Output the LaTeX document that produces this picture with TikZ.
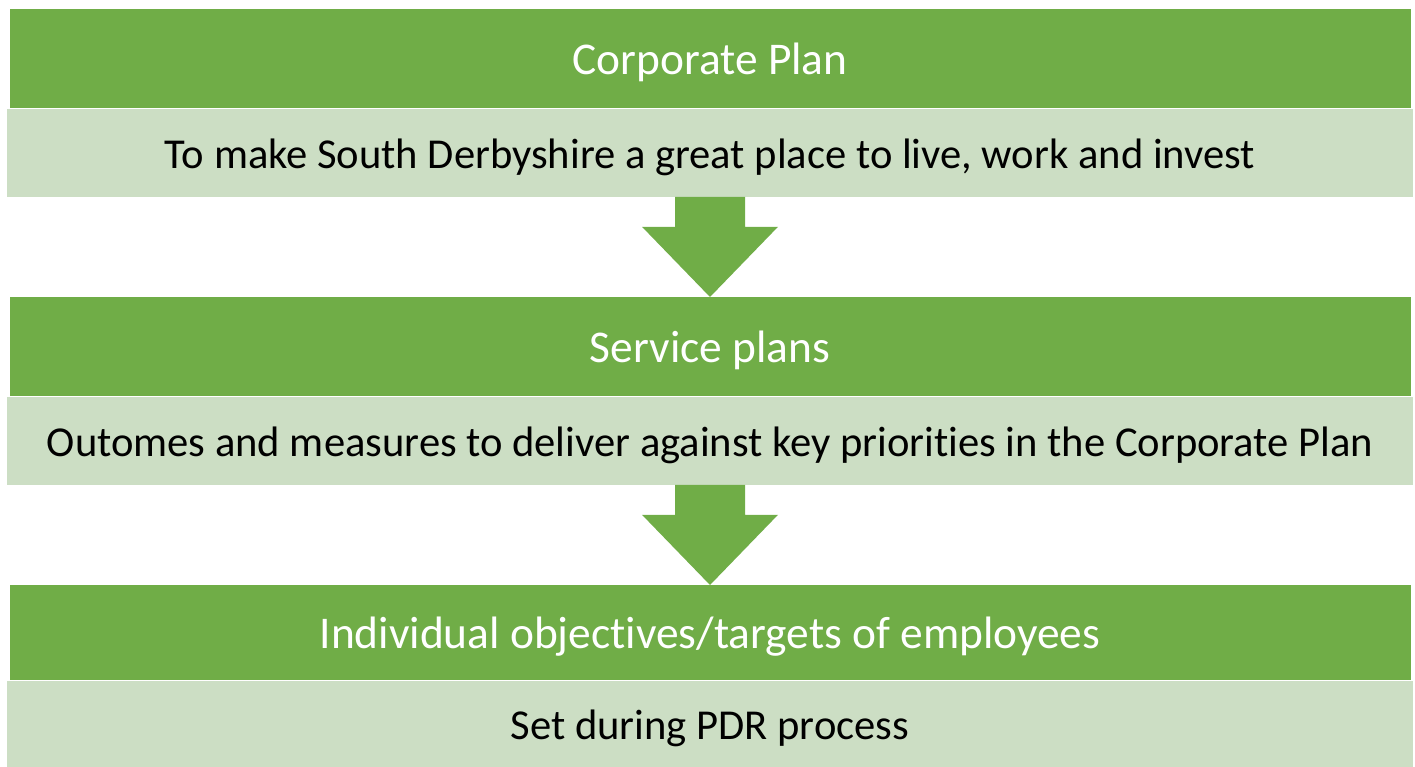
\documentclass[tikz,border=0pt]{standalone}
\usepackage{fontspec}
\setmainfont{Carlito}[Ligatures=NoCommon]
\usetikzlibrary{calc}
\definecolor{dkgreen}{RGB}{112,173,71}
\definecolor{ltgreen}{RGB}{204,222,196}
\begin{document}
\begin{tikzpicture}[x=1pt,y=1pt,
  band/.style={inner sep=0pt, anchor=north, text height=38pt, text depth=7pt},
  head/.style={band, fill=dkgreen, text=white, minimum width=1401pt,
    font=\fontsize{45.4}{54}\selectfont},
  body/.style={band, fill=ltgreen, text=black, minimum width=1406pt,
    font=\fontsize{42.6}{51}\selectfont},
  blockarrow/.style={fill=dkgreen}]
\useasboundingbox (0,0) rectangle (1415,766);
\node[head, minimum height=99pt] (h1) at (710,757) {Corporate Plan};
\node[body, minimum height=88pt] (b1) at (h1.south) {To make South Derbyshire a great place to live, work and invest};
\node[head, minimum height=99pt] (h2) at (710,469) {Service plans};
\node[body, minimum height=88pt] (b2) at (h2.south) {Outomes and measures to deliver against key priorities in the Corporate Plan};
\node[head, minimum height=95pt] (h3) at (710,181) {Individual objectives/targets of employees};
\node[body, minimum height=86pt] (b3) at (h3.south) {Set during PDR process};
\fill[blockarrow] ($(b1.south)+(-35,0)$) -- ($(b1.south)+(35,0)$) -- ($(b1.south)+(35,-30)$)
  -- ($(b1.south)+(68,-30)$) -- (h2.north) -- ($(b1.south)+(-68,-30)$) -- ($(b1.south)+(-35,-30)$) -- cycle;
\fill[blockarrow] ($(b2.south)+(-35,0)$) -- ($(b2.south)+(35,0)$) -- ($(b2.south)+(35,-30)$)
  -- ($(b2.south)+(68,-30)$) -- (h3.north) -- ($(b2.south)+(-68,-30)$) -- ($(b2.south)+(-35,-30)$) -- cycle;
\end{tikzpicture}
\end{document}
